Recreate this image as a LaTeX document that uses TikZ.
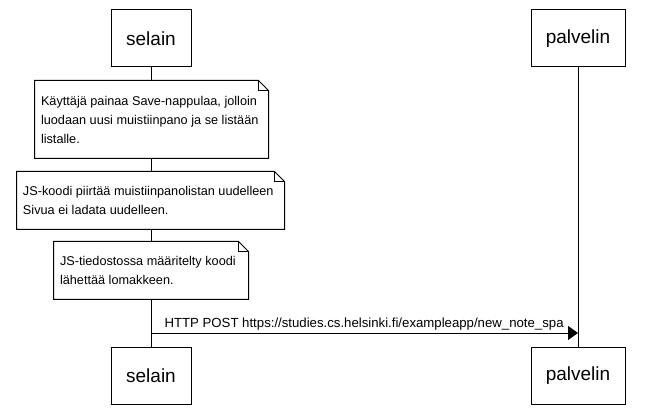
\documentclass[tikz,border=0pt]{standalone}
\usepackage{fontspec}
\setmainfont{Liberation Sans}
\usetikzlibrary{arrows.meta}
\begin{document}
\begin{tikzpicture}[x=1pt,y=-1pt, line width=1pt,
  actor/.style={draw, fill=white, inner sep=0pt, minimum height=57pt, font=\fontsize{19}{22}\selectfont},
  notearea/.style={inner sep=0pt},
  notetext/.style={font=\fontsize{12.7}{19}\selectfont, align=left, anchor=west, inner sep=0pt},
  msglabel/.style={font=\fontsize{13.2}{15}\selectfont, anchor=base west, inner sep=0pt}]
\useasboundingbox[fill=white] (0,0) rectangle (651,414);
% actors
\node[actor, minimum width=80pt] (s1) at (151,38.5) {selain};
\node[actor, minimum width=94pt] (p1) at (578,38.5) {palvelin};
\node[actor, minimum width=80pt] (s2) at (151,375.5) {selain};
\node[actor, minimum width=94pt] (p2) at (578,375.5) {palvelin};
% lifelines
\draw (s1.south) -- (s2.north);
\draw (p1.south) -- (p2.north);
% notes
\newcommand{\drawnote}[1]{%
  \draw[fill=white] (#1.north west) -- ([xshift=-10pt]#1.north east) -- ([yshift=-10pt]#1.north east) -- (#1.south east) -- (#1.south west) -- cycle;
  \draw ([xshift=-10pt]#1.north east) -- ([xshift=-10pt,yshift=-10pt]#1.north east) -- ([yshift=-10pt]#1.north east);}
\node[notearea, minimum width=233pt, minimum height=77pt] (n1) at (151.5,119.5) {};
\drawnote{n1}
\node[notetext] (t1) at ([xshift=6pt]n1.west) {Käyttäjä painaa Save-nappulaa, jolloin\\luodaan uusi muistiinpano ja se listään\\listalle.};
\node[notearea, minimum width=267pt, minimum height=57pt] (n2) at (150.5,200.5) {};
\drawnote{n2}
\node[notetext] (t2) at ([xshift=6pt]n2.west) {JS-koodi piirtää muistiinpanolistan uudelleen\\Sivua ei ladata uudelleen.};
\node[notearea, minimum width=194pt, minimum height=57pt] (n3) at (151,270.5) {};
\drawnote{n3}
\node[notetext] (t3) at ([xshift=6pt]n3.west) {JS-tiedostossa määritelty koodi\\lähettää lomakkeen.};
% message
\coordinate (m1) at (151,333);
\coordinate (m2) at (578,333);
\draw[-{Triangle[length=10pt,width=14pt]}] (m1) -- (m2);
\node[msglabel] (ml) at (164,327) {HTTP POST https://studies.cs.helsinki.fi/exampleapp/new\_note\_spa};
\end{tikzpicture}
\end{document}
